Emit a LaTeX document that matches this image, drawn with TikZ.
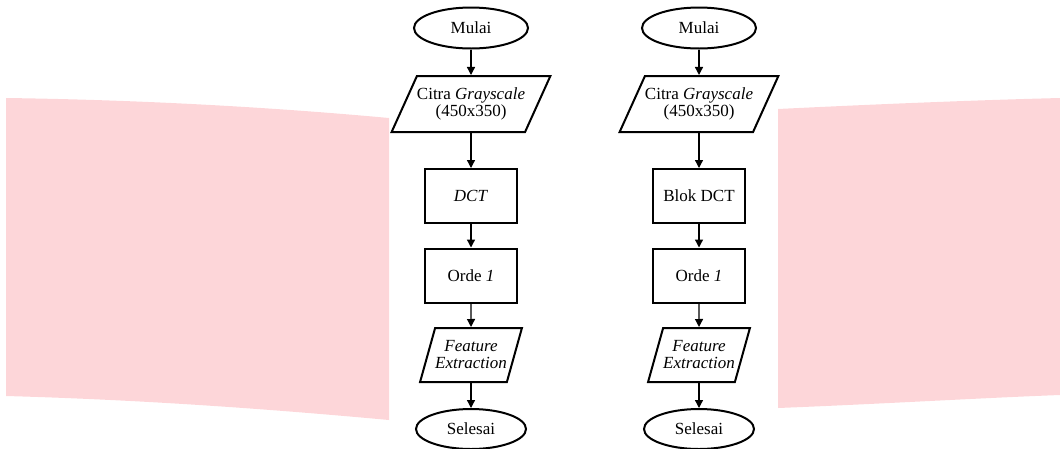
\documentclass[tikz,border=0pt]{standalone}
\usepackage{fontspec}
\setmainfont{Liberation Serif}
\usetikzlibrary{shapes.geometric,arrows.meta}
\definecolor{pinkmark}{RGB}{253,214,217}

\tikzset{
	every node/.style={font=\fontsize{17}{17}\selectfont},
	terminal/.style={ellipse, draw, line width=2pt, minimum width=114pt, minimum height=41pt, inner sep=0pt},
	iobox/.style 2 args={trapezium, trapezium stretches body, trapezium left angle=#1, trapezium right angle=#2, draw, line width=2pt, align=center, inner xsep=0pt, inner ysep=0pt},
	process/.style={rectangle, draw, line width=2pt, minimum width=92pt, minimum height=54pt, inner sep=0pt},
	flow/.style={line width=1.3pt, -{Triangle[length=8pt,width=8pt]}},
}

\begin{document}
\begin{tikzpicture}[x=1pt,y=-1pt]
	\useasboundingbox (0,0) rectangle (1060,448);
	% watermark
	\fill[pinkmark] (6,98) .. controls (150,100) and (280,108) .. (389,118) -- (389,420) .. controls (280,410) and (150,400) .. (6,396) -- cycle;
	\fill[pinkmark] (778,109) .. controls (880,104) and (980,100) .. (1060,98) -- (1060,395) .. controls (980,398) and (880,404) .. (778,408) -- cycle;
	% two flowcharts
	\foreach \cx/\nm/\blk in {471/L/{\textit{DCT}}, 699/R/{Blok DCT}} {
		\node[terminal] (mulai\nm) at (\cx,28) {Mulai};
		\node[iobox={52}{128}, minimum width=110pt, minimum height=56pt] (citra\nm) at (\cx,104) {Citra \textit{Grayscale}\\(450x350)};
		\node[process] (dct\nm) at (\cx,196) {\blk};
		\node[process] (orde\nm) at (\cx,275.5) {Orde \textit{1}};
		\node[iobox={62}{118}, minimum width=88pt, minimum height=54pt] (feat\nm) at (\cx,355) {\textit{Feature}\\\textit{Extraction}};
		\node[terminal, minimum width=110pt, minimum height=40pt] (selesai\nm) at (\cx,429) {Selesai};
		\draw[flow] (mulai\nm) -- (citra\nm);
		\draw[flow] (citra\nm) -- (dct\nm);
		\draw[flow] (dct\nm) -- (orde\nm);
		\draw[flow] (orde\nm) -- (feat\nm);
		\draw[flow] (feat\nm) -- (selesai\nm);
	}
\end{tikzpicture}
\end{document}
